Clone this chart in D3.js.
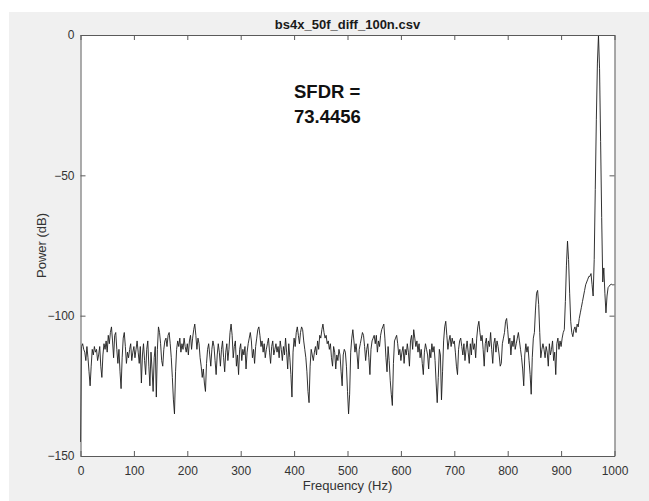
<!DOCTYPE html>
<html>
<head>
<meta charset="utf-8">
<script src="https://cdn.jsdelivr.net/npm/d3@7"></script>
<style>
  body { margin: 0; background: #fff; }
  svg text { font-family: "Liberation Sans", Arial, Helvetica, sans-serif; }
</style>
</head>
<body>
<div id="chart"></div>
<script>
/* global d3 */

// chart values
var titleText = "bs4x_50f_diff_100n.csv";
var xLabel = "Frequency (Hz)";
var yLabel = "Power (dB)";
var noteLines = ["SFDR =", "73.4456"];
var xTicks = [0, 100, 200, 300, 400, 500, 600, 700, 800, 900, 1000];
var yTicks = [0, -50, -100, -150];
var freqStep = 2;  // Hz between FFT bins

// power (dB) per bin, 0 .. 1000 Hz, 25 bins per row
var power = [
  -145, -111, -110, -112, -113, -116, -111, -115, -120, -125, -118, -112, -114, -111, -113, -112, -116, -114, -111, -118, -122, -114, -110, -112, -109,
  -113, -107, -110, -106, -104, -109, -115, -107, -106, -112, -117, -112, -120, -126, -115, -108, -106, -111, -117, -113, -115, -112, -110, -116, -113,
  -111, -115, -112, -109, -113, -117, -111, -124, -114, -110, -116, -121, -112, -109, -118, -125, -113, -119, -127, -115, -111, -129, -112, -104, -106,
  -110, -116, -118, -112, -109, -108, -111, -107, -106, -110, -115, -122, -130, -135, -120, -112, -109, -111, -108, -113, -110, -112, -108, -111, -113,
  -110, -114, -109, -107, -112, -108, -105, -103, -107, -112, -108, -110, -115, -118, -122, -119, -124, -127, -117, -112, -110, -114, -118, -112, -109,
  -111, -116, -121, -114, -110, -113, -118, -112, -109, -115, -120, -113, -110, -116, -112, -106, -103, -107, -115, -111, -109, -118, -114, -121, -112,
  -110, -116, -112, -114, -111, -119, -113, -110, -108, -106, -109, -115, -112, -117, -111, -108, -105, -104, -107, -111, -109, -113, -110, -115, -112,
  -110, -108, -113, -117, -111, -109, -114, -112, -110, -113, -111, -115, -109, -112, -116, -111, -114, -108, -113, -119, -110, -115, -121, -129, -113,
  -108, -111, -106, -104, -107, -110, -106, -104, -105, -109, -112, -115, -120, -127, -131, -118, -112, -114, -116, -113, -111, -114, -109, -112, -107,
  -108, -105, -103, -106, -108, -107, -110, -109, -112, -110, -115, -118, -111, -113, -119, -114, -116, -112, -114, -120, -125, -114, -112, -113, -118,
  -127, -135, -128, -113, -108, -105, -109, -113, -110, -114, -119, -112, -110, -108, -106, -107, -111, -116, -112, -110, -115, -121, -112, -109, -108,
  -107, -110, -107, -113, -109, -111, -107, -105, -104, -103, -108, -115, -120, -111, -116, -123, -128, -132, -117, -109, -108, -107, -110, -114, -112,
  -116, -113, -111, -117, -112, -114, -110, -113, -118, -109, -107, -112, -105, -108, -111, -109, -113, -110, -115, -112, -117, -121, -113, -110, -112,
  -114, -119, -112, -115, -110, -113, -111, -116, -124, -131, -122, -112, -114, -130, -120, -109, -104, -102, -107, -112, -109, -107, -111, -108, -110,
  -109, -113, -118, -121, -112, -109, -108, -111, -114, -110, -116, -112, -109, -113, -117, -110, -114, -108, -112, -110, -115, -108, -104, -102, -106,
  -109, -107, -112, -118, -110, -108, -113, -109, -111, -106, -112, -117, -110, -108, -113, -109, -111, -114, -118, -117, -110, -108, -106, -102, -101,
  -105, -110, -108, -114, -109, -111, -107, -112, -110, -108, -106, -109, -112, -115, -119, -125, -114, -110, -113, -111, -116, -121, -128, -115, -108,
  -106, -98, -92, -91, -96, -106, -115, -112, -110, -112, -115, -111, -113, -118, -110, -114, -112, -109, -116, -113, -121, -110, -108, -112, -109,
  -111, -108, -106, -105, -95, -82, -73.4456, -80, -92, -102, -106, -107.5, -105, -104, -106, -103, -104, -101, -99, -97, -95, -93, -91, -89, -88,
  -87, -86, -86, -85, -89, -93, -80, -55, -30, -10, 0, -12, -38, -65, -88, -83, -92, -99, -93, -90, -89.5, -89, -88.8, -89, -89,
  -89
];

var data = power.map(function (p, i) { return [i * freqStep, p]; });

var
  width = 649,
  height = 501,
  plot = { left: 80.5, right: 614.5, top: 35, bottom: 456 },
  axisColor = "#5a5a5a",
  textColor = "#333";

var svg = d3.select("#chart").append("svg")
  .attr("width", width)
  .attr("height", height);

// figure window background
svg.append("rect")
  .attr("x", 9).attr("y", 12)
  .attr("width", width - 9).attr("height", height - 12)
  .attr("fill", "#f0f0f0");

svg.append("rect")
  .attr("x", plot.left).attr("y", plot.top)
  .attr("width", plot.right - plot.left)
  .attr("height", plot.bottom - plot.top)
  .attr("fill", "#fff");

var xScale = d3.scaleLinear().domain([0, 1000]).range([plot.left, plot.right]);
var yScale = d3.scaleLinear().domain([-150, 0]).range([plot.bottom, plot.top]);

// the spectrum
svg.append("path")
  .datum(data)
  .attr("fill", "none")
  .attr("stroke", "#1c1c1c")
  .attr("stroke-width", 0.9)
  .attr("stroke-linejoin", "round")
  .attr("d", d3.line()
    .x(function (d) { return xScale(d[0]); })
    .y(function (d) { return yScale(d[1]); }));

// axes, ticks point inward like matlab
function styleAxis(g) {
  g.select(".domain").attr("stroke", axisColor);
  g.selectAll(".tick line").attr("stroke", axisColor);
  g.selectAll(".tick text")
    .attr("fill", textColor)
    .style("font-size", "12px");
}

var fmt = d3.format("d");

svg.append("g")
  .attr("transform", "translate(0," + plot.bottom + ")")
  .call(d3.axisBottom(xScale).tickValues(xTicks).tickFormat(fmt)
    .tickSizeInner(-5).tickSizeOuter(0).tickPadding(10))
  .call(styleAxis);

svg.append("g")
  .attr("transform", "translate(0," + plot.top + ")")
  .call(d3.axisTop(xScale).tickValues(xTicks).tickSizeInner(-5).tickSizeOuter(0).tickFormat(""))
  .call(styleAxis);

svg.append("g")
  .attr("transform", "translate(" + plot.left + ",0)")
  .call(d3.axisLeft(yScale).tickValues(yTicks).tickFormat(fmt)
    .tickSizeInner(-5).tickSizeOuter(0).tickPadding(6))
  .call(styleAxis);

svg.append("g")
  .attr("transform", "translate(" + plot.right + ",0)")
  .call(d3.axisRight(yScale).tickValues(yTicks).tickSizeInner(-5).tickSizeOuter(0).tickFormat(""))
  .call(styleAxis);

// titles
svg.append("text")
  .attr("x", (plot.left + plot.right) / 2)
  .attr("y", 29)
  .attr("text-anchor", "middle")
  .attr("font-weight", "bold")
  .attr("font-size", "13px")
  .attr("fill", "#1a1a1a")
  .text(titleText);

svg.append("text")
  .attr("x", (plot.left + plot.right) / 2)
  .attr("y", 490)
  .attr("text-anchor", "middle")
  .attr("font-size", "13px")
  .attr("fill", textColor)
  .text(xLabel);

svg.append("text")
  .attr("transform", "translate(46," + (plot.top + plot.bottom) / 2 + ") rotate(-90)")
  .attr("text-anchor", "middle")
  .attr("font-size", "13px")
  .attr("fill", textColor)
  .text(yLabel);

// annotation
svg.append("text")
  .attr("x", 294)
  .attr("font-weight", "bold")
  .attr("font-size", "18.5px")
  .attr("fill", "#111")
  .selectAll("tspan")
  .data(noteLines)
  .enter().append("tspan")
  .attr("x", 294)
  .attr("y", function (d, i) { return 98 + i * 25; })
  .text(function (d) { return d; });
</script>
</body>
</html>
